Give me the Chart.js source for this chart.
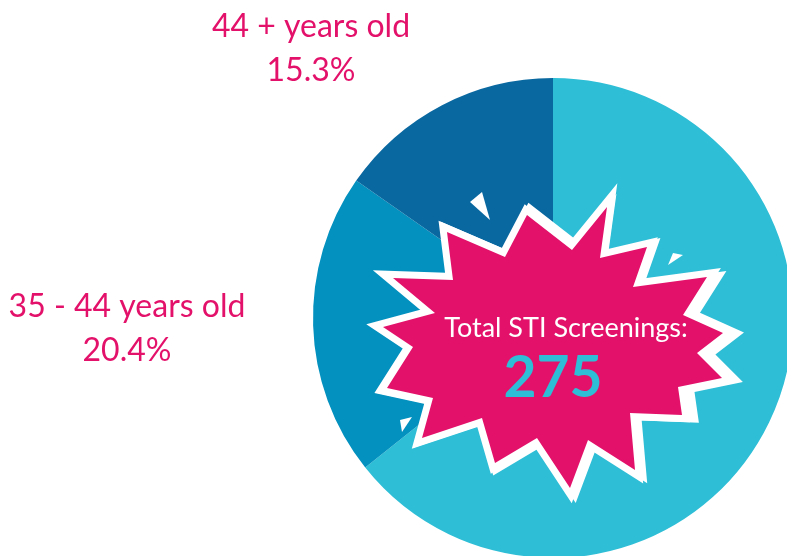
<!DOCTYPE html>
<html>
<head>
<meta charset="utf-8">
<script src="https://cdn.jsdelivr.net/npm/chart.js@4.4.0/dist/chart.umd.min.js"></script>
<style>
    html, body { margin: 0; padding: 0; background: #fff; overflow: hidden; width: 787px; height: 556px; }
    #wrap { position: absolute; left: 0; top: 0; width: 800px; height: 600px; }
</style>
</head>
<body>
<div id="wrap"><canvas id="chart" width="800" height="600"></canvas></div>
<script>
// chart data
const ageGroups = ["Under 35 years old", "35 - 44 years old", "44 + years old"];
const shares = [64.3, 20.4, 15.3];
const sliceColors = ["#2ebed6", "#0391bf", "#0a68a0"];
const shownLabels = [false, true, true];
const totalLabel = "Total STI Screenings:";
const totalValue = 275;

const PINK = "#e3116a";

// starburst outline, offsets from pie center
const burst = [
    [-26, -103], [19, -68], [54, -111], [47, -60], [94, -71], [80, -31],
    [154, -41], [130, -3], [170, 15], [144, 35], [169, 60], [125, 69],
    [129, 97], [77, 95], [82, 152], [35, 122], [17, 170], [-16, 120],
    [-58, 145], [-71, 100], [-131, 120], [-120, 80], [-166, 70], [-140, 29],
    [-170, 9], [-118, -5], [-160, -40], [-100, -38], [-106, -86], [-48, -61]
];
const shards = [
    [[-83, -116], [-71, -126], [-63, -98]],
    [[115, -53], [120, -65], [130, -63]],
    [[-153, 102], [-141, 99], [-151, 114]]
];

function path(ctx, cx, cy, pts, scale) {
    ctx.beginPath();
    pts.forEach((p, i) => {
        let x = cx + p[0] * scale, y = cy + p[1] * scale;
        if (i == 0) ctx.moveTo(x, y); else ctx.lineTo(x, y);
    });
    ctx.closePath();
}

const burstPlugin = {
    id: "burst",
    afterDatasetsDraw(chart) {
        let ctx = chart.ctx;
        let arc = chart.getDatasetMeta(0).data[0];
        let cx = arc.x, cy = arc.y;

        ctx.save();
        ctx.fillStyle = "#fff";
        ctx.strokeStyle = "#fff";
        ctx.lineJoin = "miter";
        ctx.miterLimit = 4;
        path(ctx, cx + 4, cy - 2, burst, 1.1);
        ctx.fill();
        path(ctx, cx, cy, burst, 1);
        ctx.lineWidth = 14;
        ctx.stroke();
        shards.forEach(s => { path(ctx, cx, cy, s, 1); ctx.fill(); });

        ctx.fillStyle = PINK;
        path(ctx, cx, cy, burst, 1);
        ctx.fill();

        ctx.textAlign = "center";
        ctx.textBaseline = "alphabetic";
        ctx.fillStyle = "#fff";
        ctx.font = "27px Lato";
        ctx.fillText(totalLabel, cx + 13, cy + 19);
        ctx.fillStyle = "#2ebed6";
        ctx.font = "bold 57px Lato";
        ctx.fillText(String(totalValue), cx, cy + 79);
        ctx.restore();
    }
};

const labelPlugin = {
    id: "sliceLabels",
    afterDraw(chart, args, opts) {
        let ctx = chart.ctx;
        let meta = chart.getDatasetMeta(0);
        ctx.save();
        ctx.fillStyle = PINK;
        ctx.font = "32px Lato";
        ctx.textAlign = "center";
        ctx.textBaseline = "middle";
        meta.data.forEach((arc, i) => {
            if (!shownLabels[i]) return;
            let off = opts.offsets[i];
            let x = arc.x + off[0], y = arc.y + off[1];
            ctx.fillText(ageGroups[i], x, y);
            ctx.fillText(shares[i].toFixed(1) + "%", x, y + 44);
        });
        ctx.restore();
    }
};

new Chart(document.getElementById("chart"), {
    type: "pie",
    data: {
        labels: ageGroups,
        datasets: [{
            data: shares,
            backgroundColor: sliceColors,
            borderWidth: 0
        }]
    },
    options: {
        responsive: false,
        animation: false,
        layout: { padding: { left: 313, right: 7, top: 78, bottom: 42 } },
        plugins: {
            legend: { display: false },
            tooltip: { enabled: false },
            sliceLabels: { offsets: [null, [-426, -11], [-242, -291]] }
        }
    },
    plugins: [burstPlugin, labelPlugin]
});
</script>
</body>
</html>
